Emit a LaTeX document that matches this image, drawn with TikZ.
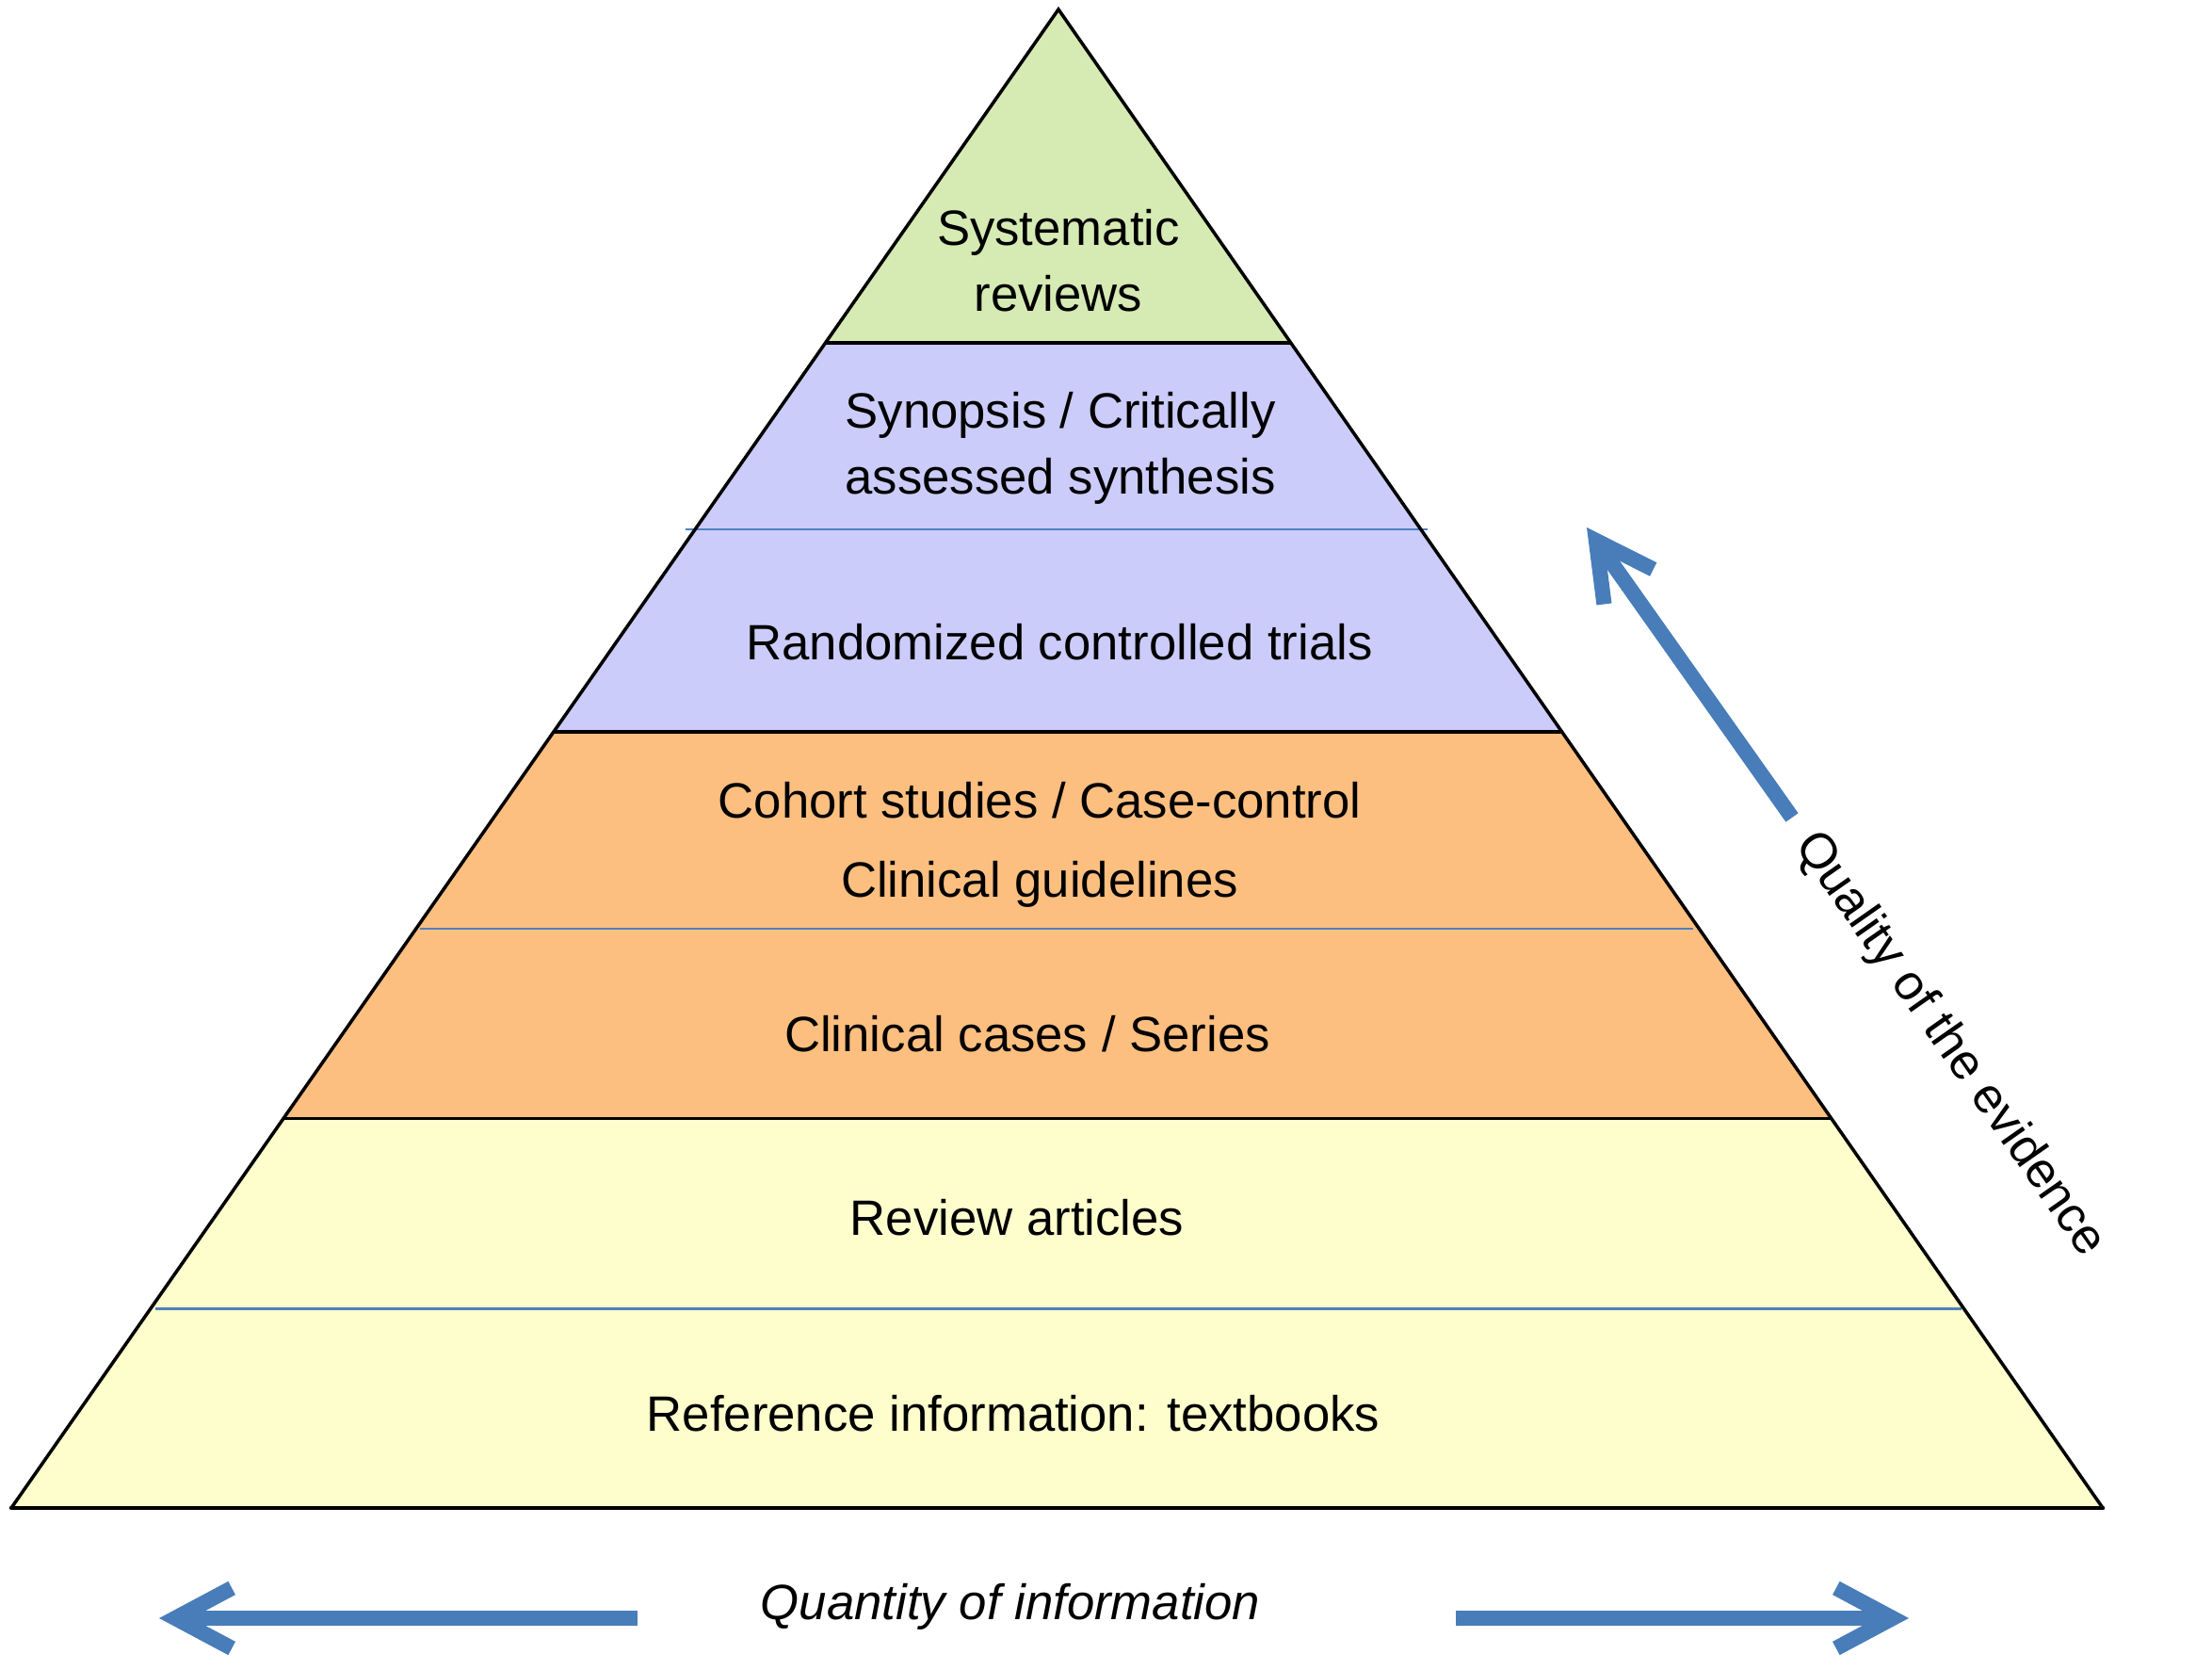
\documentclass[tikz,border=0pt]{standalone}
\usepackage{fontspec}
\setmainfont{Liberation Sans}
\definecolor{toplime}{RGB}{214, 234, 180}
\definecolor{midviolet}{RGB}{204, 204, 250}
\definecolor{loworange}{RGB}{253, 191, 128}
\definecolor{basecream}{RGB}{254, 253, 204}
\definecolor{arrowblue}{RGB}{72, 125, 186}
\definecolor{seamblue}{RGB}{79, 129, 189}
\usetikzlibrary{arrows.meta, calc, positioning}

\begin{document}
\begin{tikzpicture}[
  lvl/.style={align=center, font=\fontsize{15}{19.9}\selectfont},
  seam/.style={draw=seamblue, line width=0.7pt},
  rim/.style={draw=black, line width=1pt, line join=miter},
  bigarrow/.style={draw=arrowblue, line width=4.6pt, -{Straight Barb[length=6mm, width=6.4mm]}}
]
  \useasboundingbox (0,0) rectangle (23.49,17.73);
  \coordinate (apex) at (11.24,17.63);
  \coordinate (bl) at (0.12,1.72);
  \coordinate (br) at (22.33,1.72);
  \foreach \t/\n in {0.2225/a, 0.347/b, 0.482/c, 0.6135/d, 0.740/e, 0.867/f}{
    \coordinate (l\n) at ($(apex)!\t!(bl)$);
    \coordinate (r\n) at ($(apex)!\t!(br)$);
  }
  \fill[toplime] (apex) -- (ra) -- (la) -- cycle;
  \fill[midviolet] (la) -- (ra) -- (rc) -- (lc) -- cycle;
  \fill[loworange] (lc) -- (rc) -- (re) -- (le) -- cycle;
  \fill[basecream] (le) -- (re) -- (br) -- (bl) -- cycle;
  \draw[seam] ([xshift=-0.1cm]lb) -- ([xshift=0.07cm]rb);
  \draw[seam] ([xshift=0.04cm]ld) -- ([xshift=-0.06cm]rd);
  \draw[seam] ([xshift=0.05cm]lf) -- ([xshift=-0.03cm]rf);
  \draw[rim] (la) -- (ra) (lc) -- (rc) (le) -- (re);
  \draw[rim] (bl) -- (apex) -- (br);
  \draw[black, line width=1.3pt, line cap=round] (bl) -- (br);

  \node[lvl] (sysrev) at (11.24,14.96) {Systematic\\reviews};
  \node[lvl] (synop) at (11.26,12.97) {Synopsis / Critically\\assessed synthesis};
  \node[lvl] (rct) at (11.25,10.91) {Randomized controlled trials};
  \node[lvl, font=\fontsize{15}{23.8}\selectfont] (cohort) at (11.04,8.76) {Cohort studies / Case-control\\Clinical guidelines};
  \node[lvl] (cases) at (10.91,6.75) {Clinical cases / Series};
  \node[lvl] (review) at (10.80,4.80) {Review articles};
  \node[lvl] (refinfo) at (10.76,2.72) {Reference information: textbooks};
  \node[lvl, font=\fontsize{15}{18}\selectfont\itshape] (quantity) at (10.73,0.67) {Quantity of information};
  \node[lvl, rotate=-55] (quality) at (20.70,6.64) {Quality of the evidence};

  \coordinate (qtail) at (19.03,9.05);
  \coordinate (qtip) at (16.85,12.13);
  \coordinate (ltail) at (6.77,0.55);
  \coordinate (ltip) at (1.69,0.55);
  \coordinate (rtail) at (15.46,0.55);
  \coordinate (rtip) at (20.27,0.55);
  \draw[bigarrow] (qtail) -- (qtip);
  \draw[bigarrow] (ltail) -- (ltip);
  \draw[bigarrow] (rtail) -- (rtip);
\end{tikzpicture}
\end{document}
